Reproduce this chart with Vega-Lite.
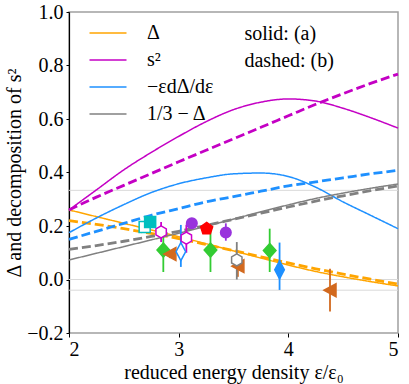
{
  "$schema": "https://vega.github.io/schema/vega-lite/v6.json",
  "width": 329,
  "height": 321,
  "autosize": {"type": "none"},
  "padding": {"left": 69, "top": 12, "right": 11, "bottom": 51},
  "background": "white",
  "config": {
    "font": "Liberation Serif",
    "view": {"stroke": "#a0a0a0", "strokeWidth": 1.5},
    "axis": {
      "labelFont": "Liberation Serif",
      "titleFont": "Liberation Serif",
      "labelFontSize": 20,
      "titleFontSize": 20,
      "titleFontWeight": "normal",
      "labelColor": "black",
      "titleColor": "black",
      "tickColor": "black",
      "grid": false
    },
    "legend": {"labelFont": "Liberation Serif"},
    "text": {"font": "Liberation Serif"}
  },
  "datasets": {
    "curves": [
      {"x": 2.0, "v": 0.26, "s": "Δ", "c": "a"},
      {"x": 2.25, "v": 0.235, "s": "Δ", "c": "a"},
      {"x": 2.5, "v": 0.21, "s": "Δ", "c": "a"},
      {"x": 2.75, "v": 0.185, "s": "Δ", "c": "a"},
      {"x": 3.0, "v": 0.16, "s": "Δ", "c": "a"},
      {"x": 3.25, "v": 0.134, "s": "Δ", "c": "a"},
      {"x": 3.5, "v": 0.107, "s": "Δ", "c": "a"},
      {"x": 3.75, "v": 0.08, "s": "Δ", "c": "a"},
      {"x": 4.0, "v": 0.054, "s": "Δ", "c": "a"},
      {"x": 4.25, "v": 0.03, "s": "Δ", "c": "a"},
      {"x": 4.5, "v": 0.01, "s": "Δ", "c": "a"},
      {"x": 4.75, "v": -0.008, "s": "Δ", "c": "a"},
      {"x": 5.0, "v": -0.024, "s": "Δ", "c": "a"},
      {"x": 2.0, "v": 0.22, "s": "Δ", "c": "b"},
      {"x": 2.25, "v": 0.206, "s": "Δ", "c": "b"},
      {"x": 2.5, "v": 0.19, "s": "Δ", "c": "b"},
      {"x": 2.75, "v": 0.172, "s": "Δ", "c": "b"},
      {"x": 3.0, "v": 0.153, "s": "Δ", "c": "b"},
      {"x": 3.25, "v": 0.131, "s": "Δ", "c": "b"},
      {"x": 3.5, "v": 0.108, "s": "Δ", "c": "b"},
      {"x": 3.75, "v": 0.085, "s": "Δ", "c": "b"},
      {"x": 4.0, "v": 0.062, "s": "Δ", "c": "b"},
      {"x": 4.25, "v": 0.04, "s": "Δ", "c": "b"},
      {"x": 4.5, "v": 0.02, "s": "Δ", "c": "b"},
      {"x": 4.75, "v": 0.001, "s": "Δ", "c": "b"},
      {"x": 5.0, "v": -0.017, "s": "Δ", "c": "b"},
      {"x": 2.0, "v": 0.26, "s": "s²", "c": "a"},
      {"x": 2.25, "v": 0.335, "s": "s²", "c": "a"},
      {"x": 2.5, "v": 0.41, "s": "s²", "c": "a"},
      {"x": 2.75, "v": 0.475, "s": "s²", "c": "a"},
      {"x": 3.0, "v": 0.535, "s": "s²", "c": "a"},
      {"x": 3.25, "v": 0.59, "s": "s²", "c": "a"},
      {"x": 3.5, "v": 0.635, "s": "s²", "c": "a"},
      {"x": 3.75, "v": 0.663, "s": "s²", "c": "a"},
      {"x": 4.0, "v": 0.675, "s": "s²", "c": "a"},
      {"x": 4.25, "v": 0.667, "s": "s²", "c": "a"},
      {"x": 4.5, "v": 0.64, "s": "s²", "c": "a"},
      {"x": 4.75, "v": 0.605, "s": "s²", "c": "a"},
      {"x": 5.0, "v": 0.566, "s": "s²", "c": "a"},
      {"x": 2.0, "v": 0.26, "s": "s²", "c": "b"},
      {"x": 2.25, "v": 0.308, "s": "s²", "c": "b"},
      {"x": 2.5, "v": 0.352, "s": "s²", "c": "b"},
      {"x": 2.75, "v": 0.396, "s": "s²", "c": "b"},
      {"x": 3.0, "v": 0.44, "s": "s²", "c": "b"},
      {"x": 3.25, "v": 0.483, "s": "s²", "c": "b"},
      {"x": 3.5, "v": 0.526, "s": "s²", "c": "b"},
      {"x": 3.75, "v": 0.569, "s": "s²", "c": "b"},
      {"x": 4.0, "v": 0.612, "s": "s²", "c": "b"},
      {"x": 4.25, "v": 0.655, "s": "s²", "c": "b"},
      {"x": 4.5, "v": 0.695, "s": "s²", "c": "b"},
      {"x": 4.75, "v": 0.733, "s": "s²", "c": "b"},
      {"x": 5.0, "v": 0.768, "s": "s²", "c": "b"},
      {"x": 2.0, "v": 0.175, "s": "−εdΔ/dε", "c": "a"},
      {"x": 2.25, "v": 0.23, "s": "−εdΔ/dε", "c": "a"},
      {"x": 2.5, "v": 0.28, "s": "−εdΔ/dε", "c": "a"},
      {"x": 2.75, "v": 0.325, "s": "−εdΔ/dε", "c": "a"},
      {"x": 3.0, "v": 0.358, "s": "−εdΔ/dε", "c": "a"},
      {"x": 3.25, "v": 0.38, "s": "−εdΔ/dε", "c": "a"},
      {"x": 3.5, "v": 0.395, "s": "−εdΔ/dε", "c": "a"},
      {"x": 3.75, "v": 0.398, "s": "−εdΔ/dε", "c": "a"},
      {"x": 4.0, "v": 0.385, "s": "−εdΔ/dε", "c": "a"},
      {"x": 4.25, "v": 0.345, "s": "−εdΔ/dε", "c": "a"},
      {"x": 4.5, "v": 0.29, "s": "−εdΔ/dε", "c": "a"},
      {"x": 4.75, "v": 0.24, "s": "−εdΔ/dε", "c": "a"},
      {"x": 5.0, "v": 0.19, "s": "−εdΔ/dε", "c": "a"},
      {"x": 2.0, "v": 0.15, "s": "−εdΔ/dε", "c": "b"},
      {"x": 2.25, "v": 0.18, "s": "−εdΔ/dε", "c": "b"},
      {"x": 2.5, "v": 0.21, "s": "−εdΔ/dε", "c": "b"},
      {"x": 2.75, "v": 0.24, "s": "−εdΔ/dε", "c": "b"},
      {"x": 3.0, "v": 0.265, "s": "−εdΔ/dε", "c": "b"},
      {"x": 3.25, "v": 0.29, "s": "−εdΔ/dε", "c": "b"},
      {"x": 3.5, "v": 0.31, "s": "−εdΔ/dε", "c": "b"},
      {"x": 3.75, "v": 0.33, "s": "−εdΔ/dε", "c": "b"},
      {"x": 4.0, "v": 0.35, "s": "−εdΔ/dε", "c": "b"},
      {"x": 4.25, "v": 0.365, "s": "−εdΔ/dε", "c": "b"},
      {"x": 4.5, "v": 0.38, "s": "−εdΔ/dε", "c": "b"},
      {"x": 4.75, "v": 0.395, "s": "−εdΔ/dε", "c": "b"},
      {"x": 5.0, "v": 0.408, "s": "−εdΔ/dε", "c": "b"},
      {"x": 2.0, "v": 0.073, "s": "1/3 − Δ", "c": "a"},
      {"x": 2.25, "v": 0.098, "s": "1/3 − Δ", "c": "a"},
      {"x": 2.5, "v": 0.123, "s": "1/3 − Δ", "c": "a"},
      {"x": 2.75, "v": 0.148, "s": "1/3 − Δ", "c": "a"},
      {"x": 3.0, "v": 0.173, "s": "1/3 − Δ", "c": "a"},
      {"x": 3.25, "v": 0.199, "s": "1/3 − Δ", "c": "a"},
      {"x": 3.5, "v": 0.226, "s": "1/3 − Δ", "c": "a"},
      {"x": 3.75, "v": 0.253, "s": "1/3 − Δ", "c": "a"},
      {"x": 4.0, "v": 0.279, "s": "1/3 − Δ", "c": "a"},
      {"x": 4.25, "v": 0.303, "s": "1/3 − Δ", "c": "a"},
      {"x": 4.5, "v": 0.323, "s": "1/3 − Δ", "c": "a"},
      {"x": 4.75, "v": 0.341, "s": "1/3 − Δ", "c": "a"},
      {"x": 5.0, "v": 0.357, "s": "1/3 − Δ", "c": "a"},
      {"x": 2.0, "v": 0.113, "s": "1/3 − Δ", "c": "b"},
      {"x": 2.25, "v": 0.127, "s": "1/3 − Δ", "c": "b"},
      {"x": 2.5, "v": 0.143, "s": "1/3 − Δ", "c": "b"},
      {"x": 2.75, "v": 0.161, "s": "1/3 − Δ", "c": "b"},
      {"x": 3.0, "v": 0.18, "s": "1/3 − Δ", "c": "b"},
      {"x": 3.25, "v": 0.202, "s": "1/3 − Δ", "c": "b"},
      {"x": 3.5, "v": 0.225, "s": "1/3 − Δ", "c": "b"},
      {"x": 3.75, "v": 0.248, "s": "1/3 − Δ", "c": "b"},
      {"x": 4.0, "v": 0.271, "s": "1/3 − Δ", "c": "b"},
      {"x": 4.25, "v": 0.293, "s": "1/3 − Δ", "c": "b"},
      {"x": 4.5, "v": 0.313, "s": "1/3 − Δ", "c": "b"},
      {"x": 4.75, "v": 0.332, "s": "1/3 − Δ", "c": "b"},
      {"x": 5.0, "v": 0.35, "s": "1/3 − Δ", "c": "b"}
    ],
    "refs": [{"y": 0.3333}, {"y": 0.0}, {"y": -0.04}],
    "notes": [
      {"x": 3.6, "y": 0.916, "t": "solid: (a)"},
      {"x": 3.6, "y": 0.817, "t": "dashed: (b)"}
    ],
    "pts": [
      {"x": 2.69, "y": 0.196, "lo": null, "hi": null, "g": "sqo"},
      {"x": 2.74, "y": 0.215, "lo": null, "hi": null, "g": "sq"},
      {"x": 2.84, "y": 0.178, "lo": 0.14, "hi": 0.215, "g": "hexm"},
      {"x": 3.07, "y": 0.155, "lo": 0.1, "hi": 0.205, "g": "hexm"},
      {"x": 2.86, "y": 0.11, "lo": 0.028, "hi": 0.16, "g": "dg"},
      {"x": 3.29, "y": 0.11, "lo": 0.028, "hi": 0.185, "g": "dg"},
      {"x": 3.83, "y": 0.108, "lo": 0.028, "hi": 0.19, "g": "dg"},
      {"x": 2.92, "y": 0.095, "lo": 0.08, "hi": 0.11, "g": "tri"},
      {"x": 3.54, "y": 0.05, "lo": 0.01, "hi": 0.09, "g": "tri"},
      {"x": 4.38, "y": -0.04, "lo": -0.12, "hi": 0.04, "g": "tri"},
      {"x": 3.02, "y": 0.104, "lo": 0.047, "hi": 0.204, "g": "tdo"},
      {"x": 3.92, "y": 0.036, "lo": -0.039, "hi": 0.138, "g": "td"},
      {"x": 3.12, "y": 0.21, "lo": null, "hi": null, "g": "cir"},
      {"x": 3.43, "y": 0.176, "lo": 0.145, "hi": 0.21, "g": "cir"},
      {"x": 3.255, "y": 0.19, "lo": null, "hi": null, "g": "pent"},
      {"x": 3.53, "y": 0.073, "lo": 0.0, "hi": 0.14, "g": "hexg"}
    ]
  },
  "encoding": {
    "x": {
      "type": "quantitative",
      "scale": {"domain": [2, 5], "nice": false, "zero": false},
      "axis": {
        "title": "reduced energy density ε/ε₀",
        "values": [2, 3, 4, 5],
        "format": "d",
        "labelFont": "Liberation Serif",
        "titleFont": "Liberation Serif",
        "tickSize": 4,
        "labelPadding": 2,
        "titlePadding": 3,
        "domain": false
      }
    },
    "y": {
      "type": "quantitative",
      "scale": {"domain": [-0.2, 1.0], "nice": false, "zero": false},
      "axis": {
        "title": "Δ and decomposition of s²",
        "values": [-0.2, 0, 0.2, 0.4, 0.6, 0.8, 1.0],
        "format": ".1f",
        "labelFont": "Liberation Serif",
        "titleFont": "Liberation Serif",
        "tickSize": 3,
        "labelPadding": 3,
        "titlePadding": 2,
        "domainColor": "black",
        "domainWidth": 1.2
      }
    }
  },
  "layer": [
    {
      "data": {"name": "refs"},
      "mark": {"type": "rule", "color": "#d9d9d9", "strokeWidth": 1},
      "encoding": {"y": {"field": "y"}, "x": null}
    },
    {
      "data": {"name": "curves"},
      "mark": {"type": "line", "interpolate": "monotone"},
      "encoding": {
        "x": {"field": "x"},
        "y": {"field": "v"},
        "detail": {"field": "c"},
        "color": {
          "field": "s",
          "type": "nominal",
          "scale": {
            "domain": ["Δ", "s²", "−εdΔ/dε", "1/3 − Δ"],
            "range": ["#FFA500", "#C400C4", "#1E90FF", "#808080"]
          },
          "legend": {
            "orient": "none",
            "legendX": 29,
            "legendY": 11,
            "title": null,
            "symbolType": "M-3.7,0L3.7,0",
            "symbolSize": 100,
            "symbolStrokeWidth": 1.5,
            "labelFont": "Liberation Serif",
            "labelFontSize": 20,
            "labelColor": "black",
            "labelOffset": 29,
            "labelLimit": 300,
            "rowPadding": 7,
            "padding": 0
          }
        },
        "strokeDash": {
          "field": "c",
          "type": "nominal",
          "scale": {"domain": ["a", "b"], "range": [[1, 0], [9, 4]]},
          "legend": null
        },
        "strokeWidth": {
          "field": "c",
          "type": "nominal",
          "scale": {"domain": ["a", "b"], "range": [1.5, 2.8]},
          "legend": null
        }
      }
    },
    {
      "data": {"name": "notes"},
      "mark": {"type": "text", "align": "left", "baseline": "middle", "fontSize": 20, "font": "Liberation Serif", "color": "black"},
      "encoding": {
        "x": {"field": "x"},
        "y": {"field": "y"},
        "text": {"field": "t"}
      }
    },
    {
      "data": {"name": "pts"},
      "transform": [{"filter": "isValid(datum.lo)"}],
      "mark": {"type": "rule", "strokeWidth": 1.8},
      "encoding": {
        "x": {"field": "x"},
        "y": {"field": "lo"},
        "y2": {"field": "hi"},
        "stroke": {
          "field": "g",
          "type": "nominal",
          "scale": {
            "domain": ["sqo", "sq", "hexm", "dg", "tri", "tdo", "td", "cir", "pent", "hexg"],
            "range": ["#00BFBF", "#00BFBF", "#CC00CC", "#33CC33", "#D2691E", "#1E90FF", "#1E90FF", "#9933DD", "#FF0000", "#808080"]
          },
          "legend": null
        }
      }
    },
    {
      "data": {"name": "pts"},
      "mark": {"type": "point", "filled": true, "size": 144, "strokeWidth": 1.5, "opacity": 1},
      "encoding": {
        "x": {"field": "x"},
        "y": {"field": "y"},
        "stroke": {"field": "g", "type": "nominal", "legend": null},
        "fill": {
          "field": "g",
          "type": "nominal",
          "scale": {
            "domain": ["sqo", "sq", "hexm", "dg", "tri", "tdo", "td", "cir", "pent", "hexg"],
            "range": ["white", "#00BFBF", "white", "#33CC33", "#D2691E", "white", "#1E90FF", "#9933DD", "#FF0000", "white"]
          },
          "legend": null
        },
        "shape": {
          "field": "g",
          "type": "nominal",
          "scale": {
            "domain": ["sqo", "sq", "hexm", "dg", "tri", "tdo", "td", "cir", "pent", "hexg"],
            "range": [
              "M-0.92,-0.92L0.92,-0.92L0.92,0.92L-0.92,0.92Z",
              "M-0.92,-0.92L0.92,-0.92L0.92,0.92L-0.92,0.92Z",
              "M0,-1L0.866,-0.5L0.866,0.5L0,1L-0.866,0.5L-0.866,-0.5Z",
              "M0,-1.17L1.05,0L0,1.17L-1.05,0Z",
              "M-1,0L1,-1.08L1,1.08Z",
              "M0,-1.5L0.8,0L0,1.5L-0.8,0Z",
              "M0,-1.5L0.8,0L0,1.5L-0.8,0Z",
              "M0.88,0A0.88,0.88,0,1,1,-0.88,0A0.88,0.88,0,1,1,0.88,0Z",
              "M0,-1.05L1,-0.32L0.62,0.85L-0.62,0.85L-1,-0.32Z",
              "M0,-1L0.866,-0.5L0.866,0.5L0,1L-0.866,0.5L-0.866,-0.5Z"
            ]
          },
          "legend": null
        }
      }
    }
  ]
}
